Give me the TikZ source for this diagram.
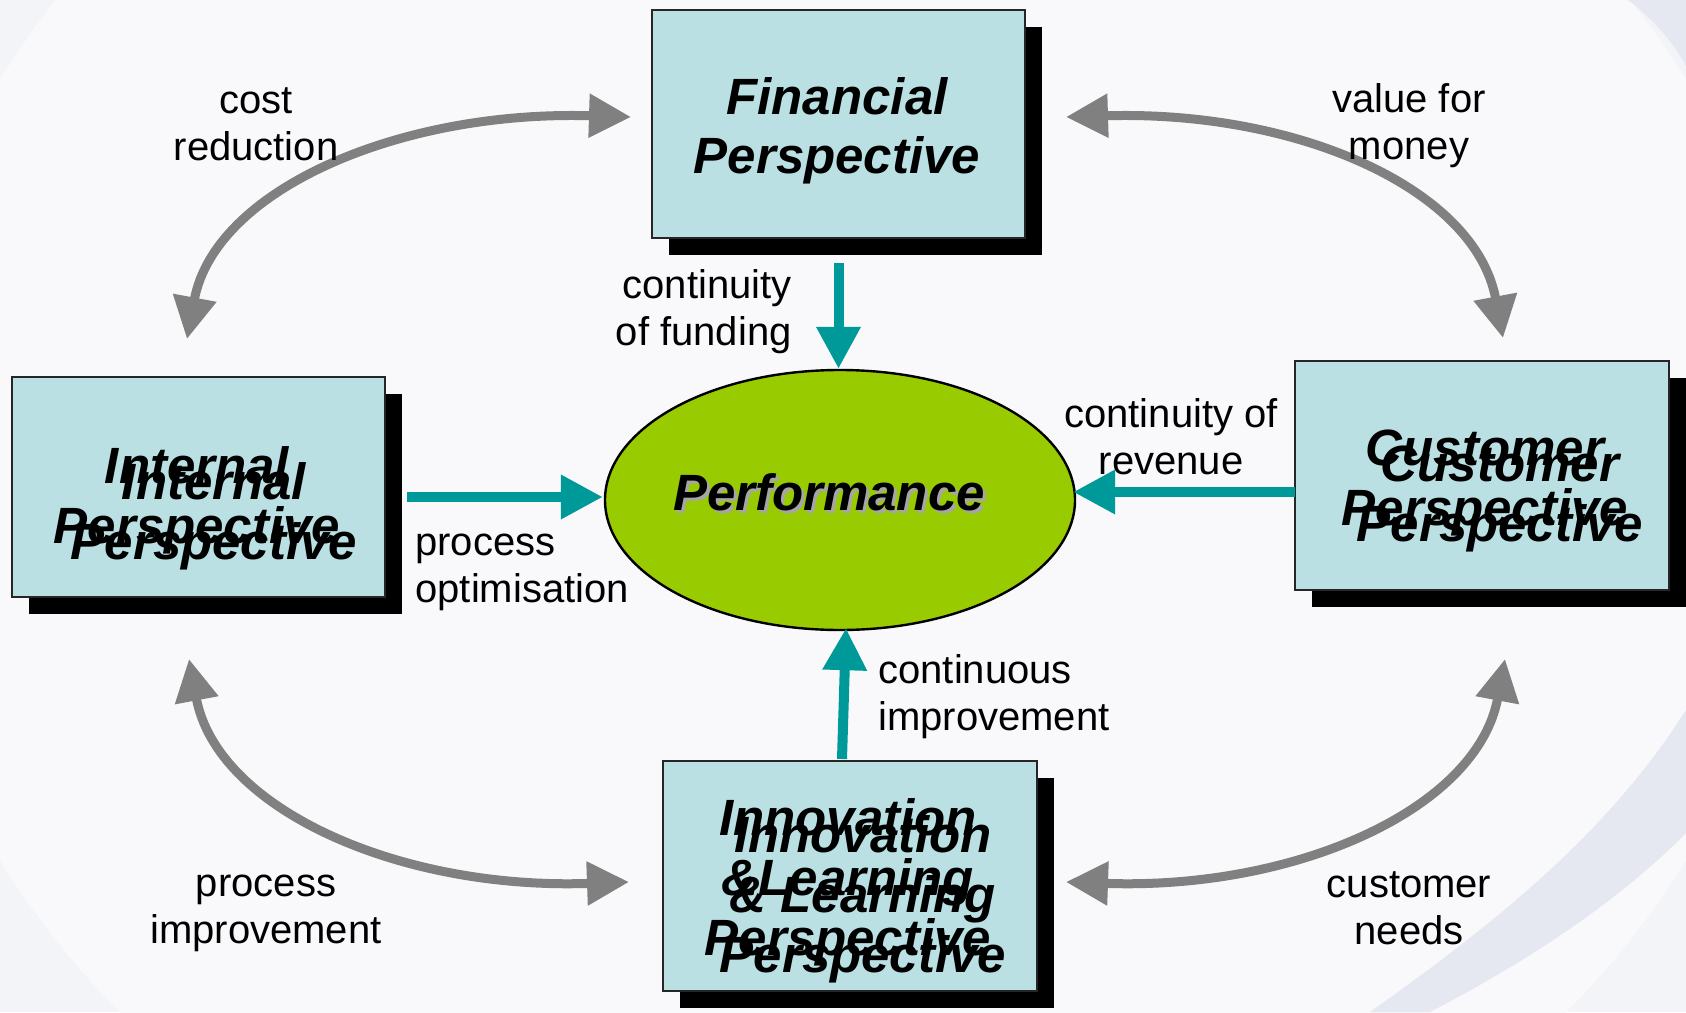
\documentclass[tikz,border=0pt]{standalone}
\usepackage{fontspec}
\setmainfont{Liberation Sans}
\usetikzlibrary{arrows.meta,shapes.geometric,calc,shadows}

\definecolor{bgbase}{RGB}{243,244,248}
\definecolor{bglight}{RGB}{249,249,251}
\definecolor{bgband}{RGB}{229,231,241}
\definecolor{boxfill}{RGB}{186,224,227}
\definecolor{perffill}{RGB}{153,204,0}
\definecolor{flowteal}{RGB}{0,153,153}
\definecolor{linkgrey}{RGB}{128,128,128}

\begin{document}
\begin{tikzpicture}[x=0.5pt,y=-0.5pt,
  box/.style={rectangle,draw=black!85,line width=1pt,fill=boxfill,inner sep=0pt,
    drop shadow={shadow xshift=8.5pt,shadow yshift=-8.5pt,opacity=1,fill=black}},
  title/.style={font=\bfseries\itshape\fontsize{25.5}{30}\selectfont,align=center,inner sep=0pt},
  lbl/.style={font=\fontsize{20}{23.5}\selectfont,inner sep=0pt},
  flow/.style={draw=flowteal,line width=5pt,-{Triangle[length=21pt,width=21pt]}},
  link/.style={draw=linkgrey,line width=4.5pt,
    {Triangle[length=21pt,width=21pt]}-{Triangle[length=21pt,width=21pt]}}]

% page and background swirls
\useasboundingbox (0,0) rectangle (1686,1012);
\begin{scope}
  \clip (0,0) rectangle (1686,1012);
  \fill[bgbase] (0,0) rectangle (1686,1012);
  \fill[bglight] (843,470) ellipse [x radius=955, y radius=830];
  \fill[bgband] (1628,0) .. controls (1652,18) and (1672,40) .. (1686,66) -- (1686,0) -- cycle;
  \fill[bgband] (1686,710) .. controls (1610,830) and (1500,920) .. (1370,1012)
     -- (1430,1012) .. controls (1530,960) and (1620,900) .. (1686,833) -- cycle;
\end{scope}

% perspective boxes
\node[box,minimum width=186.5pt,minimum height=114pt] (fin) at (838.5,124) {};
\node[box,minimum width=186.5pt,minimum height=110pt] (int) at (198.5,487) {};
\node[box,minimum width=187pt,minimum height=114.5pt] (cust) at (1482,475.5) {};
\node[box,minimum width=187pt,minimum height=115pt] (inn) at (850,876) {};

% box titles; three of them are set twice with a small offset
\node[title,anchor=north,font=\bfseries\itshape\fontsize{25.5}{29.5}\selectfont]
  (finT) at (837,77) {Financial\\Perspective};
\node[title,anchor=north] (intA) at (197,446) {Internal\\Perspective};
\node[title,anchor=north] (intB) at (214,462) {Internal\\Perspective};
\node[title,anchor=north] (custA) at (1485,429) {Customer\\Perspective};
\node[title,anchor=north] (custB) at (1500,445) {Customer\\Perspective};
\node[title,anchor=north] (innA) at (848,798) {Innovation\\\&Learning\\Perspective};
\node[title,anchor=north] (innB) at (863,815) {Innovation\\\& Learning\\Perspective};

% central ellipse
\node[ellipse,draw=black,line width=1.2pt,fill=perffill,minimum width=235pt,
  minimum height=130pt,inner sep=0pt] (perf) at (840,500) {};
\node[title,text=black!35] (perfS) at (832,495) {Performance};
\node[title] (perfT) at (829,492) {Performance};

% flows into the centre
\coordinate (finOut) at ($(fin.south)+(0,24)$);
\coordinate (intOut) at ($(int.east)+(21,10)$);
\coordinate (custOut) at ($(cust.west)+(1,16.5)$);
\coordinate (innOut) at ($(inn.north)+(-8,-1)$);
\draw[flow] (finOut) -- (finOut |- perf.north);
\draw[flow] (intOut) -- ($(intOut -| perf.west)+(-1,0)$);
\draw[flow] (custOut) -- ($(custOut -| perf.east)+(-3,0)$);
\draw[flow] (innOut) -- ($(perf.south)+(6,-3)$);

% links between neighbouring perspectives
\coordinate (tlA) at ($(fin.west)+(-20,-7)$);
\coordinate (tlB) at ($(int.north)+(-11.5,-37)$);
\coordinate (trA) at ($(fin.east)+(40,-7)$);
\coordinate (trB) at ($(cust.north)+(21,-22)$);
\coordinate (blA) at ($(int.south)+(-9.5,61)$);
\coordinate (blB) at ($(inn.west)+(-33,6)$);
\coordinate (brA) at ($(cust.south)+(23,68)$);
\coordinate (brB) at ($(inn.east)+(28,6)$);
\draw[link] (tlB) .. controls +(28,-150) and +(-230,-7) .. (tlA);
\draw[link] (trB) .. controls +(-28,-150) and +(230,-7) .. (trA);
\draw[link] (blA) .. controls +(28,150) and +(-230,8) .. (blB);
\draw[link] (brA) .. controls +(-28,150) and +(230,8) .. (brB);

% labels
\node[lbl,align=center] (lCost) at (256,124) {cost\\reduction};
\node[lbl,align=center] (lValue) at (1409,126) {value for\\money};
\node[lbl,align=right,anchor=east] (lFund) at (792,312) {continuity\\of funding};
\node[lbl,align=center] (lRev) at (1171,437) {continuity of\\revenue};
\node[lbl,align=left,anchor=west] (lOpt) at (415,572) {process\\optimisation};
\node[lbl,align=left,anchor=west] (lCont) at (878,697) {continuous\\improvement};
\node[lbl,align=center] (lProc) at (266,913) {process\\improvement};
\node[lbl,align=center] (lNeeds) at (1409,908) {customer\\needs};
\end{tikzpicture}
\end{document}
